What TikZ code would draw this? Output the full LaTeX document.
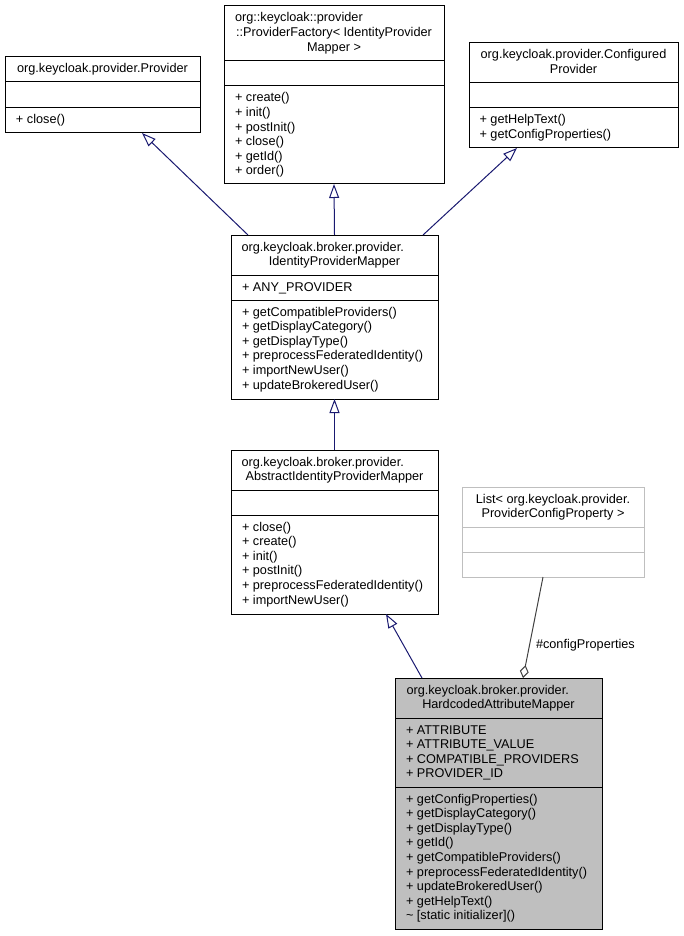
\documentclass[tikz,border=0pt]{standalone}
\usepackage{fontspec}
\setmainfont{Liberation Sans}
\usetikzlibrary{arrows.meta,calc}
\definecolor{navyline}{HTML}{191970}
\definecolor{aggline}{HTML}{404040}
\definecolor{lightborder}{HTML}{BFBFBF}
\definecolor{hamfill}{HTML}{BFBFBF}
\begin{document}
\begin{tikzpicture}[x=1pt,y=-1pt,
  box/.style={draw=black, line width=1pt, fill=white, inner sep=0pt, outer sep=0pt, anchor=north west},
  graybox/.style={box, draw=lightborder},
  hambox/.style={box, fill=hamfill},
  divline/.style={draw=black, line width=1pt},
  graydiv/.style={draw=lightborder, line width=1pt},
  txt/.style={font=\fontsize{12.7}{14.6}\selectfont, inner sep=0pt, outer sep=0pt, text=black},
  mem/.style={txt, anchor=base west},
  ttl/.style={txt, anchor=base},
  inh/.style={draw=navyline, line width=1pt, -{Triangle[open, length=14pt, width=10pt]}},
  agg/.style={draw=aggline, line width=1pt, {Diamond[open, length=13pt, width=9pt]}-}
]
\useasboundingbox (0,0) rectangle (683,936);

% ---------- Provider ----------
\node[box, minimum width=195pt, minimum height=76pt] (prov) at (5,57) {};
\draw[divline] (5,82) -- (200,82);
\draw[divline] (5,108) -- (200,108);
\node[ttl] (provt) at (102.5,73) {org.keycloak.provider.Provider};
\node[mem] (provm0) at (16,124) {+ close()};

% ---------- ProviderFactory ----------
\node[box, minimum width=220pt, minimum height=178pt] (pf) at (224,6) {};
\draw[divline] (224,61) -- (444,61);
\draw[divline] (224,86) -- (444,86);
\node[mem] (pft0) at (235,22) {org::keycloak::provider};
\node[ttl] (pft1) at (334,36.6) {::ProviderFactory< IdentityProvider};
\node[ttl] (pft2) at (334,51.2) {Mapper >};
\foreach \t [count=\i from 0] in {+ create(), + init(), + postInit(), + close(), + getId(), + order()}
  \node[mem] (pfm\i) at (235,{102+14.6*\i}) {\t};

% ---------- ConfiguredProvider ----------
\node[box, minimum width=209pt, minimum height=105pt] (cfg) at (469,43) {};
\draw[divline] (469,83) -- (678,83);
\draw[divline] (469,108) -- (678,108);
\node[ttl] (cfgt0) at (573.5,59) {org.keycloak.provider.Configured};
\node[ttl] (cfgt1) at (573.5,73.6) {Provider};
\foreach \t [count=\i from 0] in {+ getHelpText(), + getConfigProperties()}
  \node[mem] (cfgm\i) at (479.5,{124+14.6*\i}) {\t};

% ---------- IdentityProviderMapper ----------
\node[box, minimum width=207pt, minimum height=164pt] (ipm) at (231,235) {};
\draw[divline] (231,275) -- (438,275);
\draw[divline] (231,300) -- (438,300);
\node[mem] (ipmt0) at (241.5,251) {org.keycloak.broker.provider.};
\node[ttl] (ipmt1) at (334.5,265.6) {IdentityProviderMapper};
\node[mem] (ipma0) at (242,291) {+ ANY\_PROVIDER};
\foreach \t [count=\i from 0] in {+ getCompatibleProviders(), + getDisplayCategory(), + getDisplayType(), + preprocessFederatedIdentity(), + importNewUser(), + updateBrokeredUser()}
  \node[mem] (ipmm\i) at (242,{316+14.6*\i}) {\t};

% ---------- AbstractIdentityProviderMapper ----------
\node[box, minimum width=207pt, minimum height=164pt] (aipm) at (231,450) {};
\draw[divline] (231,490) -- (438,490);
\draw[divline] (231,515) -- (438,515);
\node[mem] (aipmt0) at (241.5,466) {org.keycloak.broker.provider.};
\node[ttl] (aipmt1) at (334.5,480.6) {AbstractIdentityProviderMapper};
\foreach \t [count=\i from 0] in {+ close(), + create(), + init(), + postInit(), + preprocessFederatedIdentity(), + importNewUser()}
  \node[mem] (aipmm\i) at (242,{531+14.6*\i}) {\t};

% ---------- List< ProviderConfigProperty > ----------
\node[graybox, minimum width=182pt, minimum height=90pt] (list) at (462,487) {};
\draw[graydiv] (462,527) -- (644,527);
\draw[graydiv] (462,552) -- (644,552);
\node[ttl] (listt0) at (553,503) {List< org.keycloak.provider.};
\node[ttl] (listt1) at (553,517.6) {ProviderConfigProperty >};

% ---------- HardcodedAttributeMapper ----------
\node[hambox, minimum width=207pt, minimum height=251pt] (ham) at (395,678) {};
\draw[divline] (395,718) -- (602,718);
\draw[divline] (395,787) -- (602,787);
\node[mem] (hamt0) at (406.5,694) {org.keycloak.broker.provider.};
\node[ttl] (hamt1) at (498.5,708.6) {HardcodedAttributeMapper};
\foreach \t [count=\i from 0] in {+ ATTRIBUTE, + ATTRIBUTE\_VALUE, + COMPATIBLE\_PROVIDERS, + PROVIDER\_ID}
  \node[mem] (hama\i) at (406,{734+14.6*\i}) {\t};
\foreach \t [count=\i from 0] in {+ getConfigProperties(), + getDisplayCategory(), + getDisplayType(), + getId(), + getCompatibleProviders(), + preprocessFederatedIdentity(), + updateBrokeredUser(), + getHelpText(), {\textasciitilde{} [static initializer]()}}
  \node[mem] (hamm\i) at (406,{803+14.6*\i}) {\t};

% ---------- connectors ----------
\draw[inh] ($(ipm.north west)+(17,0)$) -- ($(prov.south west)+(137,0)$);
\draw[inh] (ipm.north) -- (pf.south);
\draw[inh] ($(ipm.north west)+(192,0)$) -- ($(cfg.south west)+(48,0)$);
\draw[inh] (aipm.north) -- (ipm.south);
\draw[inh] ($(ham.north west)+(27,0)$) -- ($(aipm.south west)+(155,0)$);
\draw[agg] ($(ham.north west)+(128,0)$) -- ($(list.south west)+(81,0)$);
\node[mem] (agglbl) at (536,648) {\#configProperties};
\end{tikzpicture}
\end{document}
